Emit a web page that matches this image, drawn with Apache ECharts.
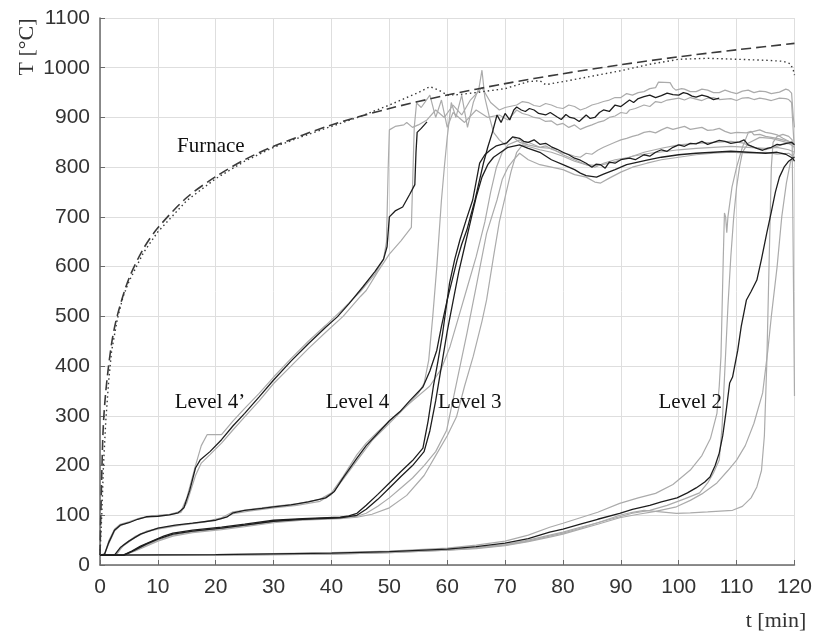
<!DOCTYPE html>
<html>
<head>
<meta charset="utf-8">
<script src="https://cdn.jsdelivr.net/npm/echarts@6/dist/echarts.min.js"></script>
<style>
  html, body { margin: 0; padding: 0; background: #fff; }
  #main { width: 815px; height: 635px; }
</style>
</head>
<body>
<div id="main"></div>
<script>
// axis ticks
const xTicks = [0, 10, 20, 30, 40, 50, 60, 70, 80, 90, 100, 110, 120]
const yTicks = [0, 100, 200, 300, 400, 500, 600, 700, 800, 900, 1000, 1100]

// furnace: standard curve (dashed) and measured (dotted), [t min, T °C]
const furnaceStandard = [[0,20],[0.5,261],[1,349],[2,445],[3,502],[5,576],[7.5,636],[10,678],[15,739],[20,781],[25,815],[30,842],[40,885],[50,918],[60,945],[70,968],[80,988],[90,1006],[100,1022],[110,1036],[120,1049]]
const furnaceMeasured = [[0,20],[0.3,100],[0.6,200],[1,290],[1.5,370],[2,430],[3,495],[4,540],[5,570],[7.5,628],[10,670],[15,733],[20,777],[25,812],[30,840],[35,862],[40,882],[45,902],[50,925],[53,940],[55,950],[57,962],[58.5,955],[60,945],[62,946],[65,950],[70,958],[74,972],[76,974],[77,966],[80,972],[85,983],[90,994],[95,1007],[100,1017],[105,1019],[110,1017],[115,1015],[118,1013],[119.3,1008],[119.8,995],[120,985]]

// Level 4'
const level4pBlack = [[0,20],[0.8,22],[1.5,45],[2.5,70],[3.5,80],[5,85],[6.5,92],[8,97],[10,98],[12,101],[13.5,105],[14.5,115],[15.5,150],[16.5,195],[17.3,211],[19,228],[21,252],[23,280],[25,305],[27.5,338],[30,372],[33,410],[36,445],[39,478],[41,499],[43,525],[45.4,559],[47.5,590],[49,615],[49.6,640],[50,700],[51,712],[52.3,720],[53.5,745],[54.4,765],[54.6,830],[54.8,870],[55.5,878],[56.5,891]]
const level4pGreyA = [[0,20],[0.8,22],[1.5,48],[2.5,72],[3.5,82],[5,87],[7,95],[9,99],[12,102],[14,108],[15,135],[16.5,200],[17.5,240],[18.5,262],[20,262],[21,262],[23,290],[25,315],[27.5,345],[30,378],[33,415],[36,450],[39,482],[42,515],[45,550],[47.5,585],[49,615],[49.5,650],[49.8,800],[50,875],[51,882],[52.5,885],[53,890],[54,880],[55,885],[56.5,895],[58,915],[59.5,900],[61,925],[62.5,905],[64,935],[66,960],[67.5,930],[69,915],[70,920],[72,925],[73,932],[74,930],[75,924],[76,922],[77,928],[78,925],[79,920],[80,918],[81,925],[82,922],[83,915],[84,919],[85,925],[86,928],[87,932],[88,935],[89,940],[90,940],[91,948],[92,945],[93,950],[94,952],[95,958],[96,960],[96.5,971],[98.5,970],[99,960],[99.5,955],[100.5,958],[101,957],[102,952],[103,952],[104,957],[105,955],[106,950],[107,950],[108,955],[109,951],[110,948],[111,953],[112,955],[113,950],[114,953],[115,952],[116,948],[117.4,951],[118.5,957],[119,955],[119.5,949],[119.8,900],[120,880]]
const level4pGreyB = [[0,20],[0.8,22],[1.5,42],[2.5,68],[3.5,79],[5,86],[7,94],[9,98],[12,101],[14,106],[15,125],[16.5,180],[17.5,205],[19,222],[21,245],[23,272],[25,298],[27.5,330],[30,365],[33,400],[36,435],[39,468],[42,500],[45,540],[46,552],[48,590],[50,625],[52,652],[53.8,679],[54,760],[54.3,880],[54.7,929],[55.5,920],[57,945],[58,900],[59,935],[60,880],[61,910],[63,890],[65,915],[67,900],[69,905],[70.5,895],[72,915],[73,908],[74,905],[75,900],[76,898],[77,892],[78,893],[79,885],[80,888],[81,880],[82,885],[83,876],[84,881],[85,885],[86,890],[87,893],[88,900],[89,903],[90,910],[91,908],[91.5,915],[92.5,918],[94,925],[95,922],[96,932],[97,930],[98,935],[99,937],[100,939],[101,935],[102,940],[103,937],[104,934],[105,939],[106,940],[107,936],[108,937],[109,938],[110,934],[111,939],[112,940],[113,936],[114,939],[115,937],[116,934],[117.4,939],[118.5,938],[119,936],[119.5,930],[119.8,870],[120,830]]

// Level 4
const level4Black = [[0,20],[2.5,20],[3.5,35],[5,48],[7,62],[10,74],[13,80],[16,84],[20,90],[22,97],[23,105],[25,110],[28,114],[30,117],[33,121],[36,127],[39,135],[40.5,148],[42,175],[44.4,215],[46,240],[48,265],[50,290],[51.8,308],[53.5,330],[55.8,358],[57,390],[58.2,432],[59,480],[60,533],[61,580],[61.7,613],[62.5,645],[63.4,674],[64,700],[64.8,734],[65.5,770],[66.3,810],[67,840],[67.8,870],[68.6,905],[69.3,890],[70,908],[70.8,895],[71.5,915],[72,921],[72.8,915],[73.5,912],[74.2,918],[75,915],[75.8,908],[77,905],[77.8,910],[79,901],[79.7,896],[80.5,906],[81.2,900],[82,898],[82.8,892],[84,905],[84.7,898],[85.5,900],[86.3,910],[87,915],[88,912],[89,925],[90,922],[91.5,935],[92.2,930],[93,938],[94,942],[95,945],[96,940],[97,944],[98,949],[99,946],[100,945],[100.8,950],[101.5,948],[102.3,943],[103,941],[104,945],[105,942],[106,936],[107,939]]
const level4GreyA = [[0,20],[2.8,20],[4,40],[6,57],[8,68],[10.4,74],[14,81],[18,87],[21,95],[23,107],[26,112],[30,118],[34,123],[38,132],[40,145],[42,178],[44.4,222],[46,245],[48,268],[51,300],[54,330],[57,360],[59,395],[60.5,440],[62,500],[63.5,560],[65,620],[66.5,690],[67.5,750],[68.5,800],[69.5,830],[70.5,845],[72.5,855],[73.3,848],[74,850],[75,845],[76,840],[77,843],[78,836],[79,832],[80,828],[81,826],[82,822],[83,820],[84,828],[85,826],[86,834],[87,840],[88,845],[89,850],[90,855],[91,858],[92,862],[93,865],[94,870],[95,872],[96,869],[97,875],[98,880],[99,876],[100,879],[101,882],[102,876],[103,878],[104,880],[105,874],[106,875],[107,878],[108,872],[109,868],[110,870],[111.7,869],[112.5,872],[113,865],[114,866],[115,862],[116,860],[117,858],[118,855],[119,852],[119.7,850],[120,845]]
const level4GreyB = [[0,20],[2.6,20],[4,38],[6,55],[8,67],[10.4,73],[14,80],[18,86],[21,93],[23,103],[26,109],[30,115],[34,120],[38,128],[40,142],[42,172],[44.4,210],[47,250],[50,285],[53,320],[55,345],[56,365],[56.8,412],[57.5,500],[58.2,600],[59,734],[59.5,800],[60,860],[60.7,930],[61.5,900],[62.5,945],[63.5,880],[64.5,930],[65.5,960],[66,995],[66.5,940],[67.3,900],[68,870],[69,855],[70,845],[71.3,861],[72.5,850],[74,845],[76,840],[78,838],[80,825],[82,815],[84,805],[85.5,800],[87,808],[89,815],[91.5,820],[94,830],[97,838],[100,845],[103,848],[106,850],[109,852],[111,849],[113,840],[115,835],[117,842],[118.6,848],[120,846]]

// Level 3
const level3Black = [[0,20],[4,20],[5.5,28],[7,38],[9,48],[11,58],[12.6,64],[16,70],[21,76],[25,82],[30,90],[35,93],[41.5,96],[43,99],[44.4,104],[46,120],[48,142],[50,165],[52,188],[54,210],[55.8,235],[56.7,290],[57.6,359],[58.4,410],[59.2,466],[60.4,567],[61.3,615],[62.2,654],[63.3,695],[64.4,734],[65.6,808],[66.5,825],[67.5,835],[68.5,843],[70.3,849],[71.3,861],[72.5,858],[73.2,852],[74,850],[75,855],[76,846],[77,848],[78,841],[79,836],[80,830],[81,825],[82,818],[83,814],[84,808],[85,800],[85.7,806],[86.5,805],[87.3,798],[88,810],[89,808],[90,815],[91.5,818],[92.5,815],[94,825],[95,822],[96,830],[97,835],[98,832],[99,840],[100,845],[101,842],[102,848],[103,847],[104,852],[105,846],[106,850],[107,854],[108,852],[109,848],[110.5,851],[111.3,855],[112,845],[113.5,838],[114.5,834],[115.3,838],[116,840],[117,846],[117.5,845],[118.6,848],[119.5,850],[120,845]]
const level3Black2 = [[0,20],[4.2,20],[6,30],[8,42],[10,52],[12.6,62],[16,68],[21,74],[25,80],[30,88],[35,92],[41.5,95],[44.4,100],[46,112],[48,132],[50,155],[52,178],[54,200],[56,228],[57,270],[58,330],[59,400],[60,470],[61,530],[62,590],[63,640],[64,690],[65,740],[66,780],[67,805],[68,820],[69,828],[70.5,840],[72.5,845],[74,838],[76,830],[78,815],[80,805],[82,795],[83,788],[84,783],[85.8,780],[87,786],[89,795],[91,805],[94.5,814],[97,820],[100,825],[103,828],[106,830],[109,832],[112,830],[115,828],[117,830],[118.5,826],[119.7,818],[120,812]]
const level3GreyA = [[0,20],[4,20],[5.5,26],[8,40],[10,50],[12.6,60],[16,67],[21,73],[25,79],[30,87],[35,91],[41.5,94],[44.4,98],[46,104],[48,118],[50,135],[52,155],[54,175],[56,200],[58,228],[59.9,271],[61.5,360],[63.4,466],[65,560],[66.8,667],[68.6,734],[69.5,775],[70.5,800],[71.5,815],[72.5,828],[74,815],[76,805],[78,800],[80,795],[82,785],[84,780],[85.5,770],[86.5,768],[88,778],[90,790],[92,800],[94.5,808],[97,815],[100,820],[103,825],[106,828],[109,830],[112,828],[115,830],[117,826],[119,828],[120,820]]
const level3GreyB = [[0,20],[4,20],[6,28],[8,38],[10,48],[12.6,58],[16,65],[21,71],[25,77],[30,85],[35,90],[41.5,93],[44.4,96],[47,102],[50,115],[53,140],[56,180],[58,220],[60,260],[61.6,298],[63,360],[64.5,420],[66,490],[66.8,533],[68,620],[69,690],[70,740],[71,790],[72,830],[73,845],[74.5,840],[76,835],[78,830],[80,822],[82,812],[84,805],[86,803],[88,808],[90,815],[92,822],[95,828],[98,832],[100,835],[103,838],[106,840],[109,842],[112,840],[115,838],[117,840],[119,835],[120,830]]

// Level 2
const level2Black = [[0,20],[20,21],[40,24],[50,27],[60,32],[65,37],[70,44],[74,53],[77.7,66],[80,72],[83,82],[86,92],[89.8,104],[92,112],[95,120],[97,127],[99.7,135],[101.5,145],[103,155],[104.5,167],[105.4,177],[106.3,200],[107,225],[107.6,260],[108.2,310],[108.8,366],[109.3,378],[110.2,432],[110.8,480],[111.7,533],[112.5,550],[113.5,573],[114.3,615],[115.2,667],[116,710],[116.7,750],[117.4,780],[118.2,800],[119,812],[119.7,818],[120,820]]
const level2GreyA = [[0,20],[20,21],[40,25],[50,28],[60,34],[65,40],[70,48],[74,60],[77.7,76],[80,84],[83,95],[86,106],[89.8,124],[93,135],[96,144],[99,162],[102,191],[104,220],[105.5,255],[106.6,305],[107,360],[107.3,420],[107.5,520],[107.7,620],[107.9,708],[108.1,700],[108.3,668],[108.5,700],[109.2,760],[110,800],[111,840],[112,869],[113,872],[114,875],[115,870],[116,868],[117,865],[118,858],[119,852],[120,845]]
const level2GreyB = [[0,20],[20,20],[40,23],[50,26],[60,31],[65,35],[70,41],[74,50],[77.7,60],[80,66],[83,76],[86,85],[89.8,97],[92,104],[95,110],[98,120],[101,133],[103.6,145],[105,165],[106,185],[107,211],[107.5,280],[108,400],[108.5,520],[109,620],[109.5,700],[110,760],[110.5,800],[111,830],[112,848],[114,860],[116,858],[118,852],[119,848],[120,840]]
const level2GreyC = [[0,20],[20,20],[40,22],[50,25],[60,30],[65,33],[70,39],[74,47],[77.7,56],[80,62],[83,72],[86,82],[89.8,95],[93,102],[96,108],[99.6,117],[102,130],[104,143],[106.6,165],[108.5,190],[110,211],[111.5,240],[113,285],[114.5,346],[115.4,432],[116,500],[117,600],[117.8,700],[118.6,768],[119.3,810],[120,830]]
const level2GreyD = [[0,20],[20,20],[40,22],[50,25],[60,30],[65,34],[70,40],[74,48],[77.7,58],[80,64],[83,74],[86,85],[89.8,100],[92,106],[94,110],[96,108],[99.6,104],[102,105],[105,107],[109.3,110],[111,118],[112.5,135],[113.5,157],[114.3,190],[114.8,260],[115.2,400],[115.5,550],[115.8,700],[116,800],[116.3,850],[117,862],[118,866],[119,862],[119.6,855],[119.8,600],[120,340]]

// text annotations placed in data coordinates
const annotations = [
  { text: 'Furnace', t: 13.3, T: 842 },
  { text: 'Level 4\u2019', t: 12.9, T: 326 },
  { text: 'Level 4', t: 39.0, T: 326 },
  { text: 'Level 3', t: 58.4, T: 326 },
  { text: 'Level 2', t: 96.5, T: 326 }
]

const greyCurves = [level4pGreyA, level4pGreyB, level4GreyA, level4GreyB, level3GreyA, level3GreyB, level2GreyA, level2GreyB, level2GreyC, level2GreyD]
const blackCurves = [level4pBlack, level4Black, level3Black, level3Black2, level2Black]

const chart = echarts.init(document.getElementById('main'))

const lineSeries = (data, color, width, z) => ({
  type: 'line',
  data: data,
  showSymbol: false,
  silent: true,
  z: z,
  lineStyle: { color: color, width: width }
})

const series = []
greyCurves.forEach(c => series.push(lineSeries(c, '#ababab', 1.2, 2)))
blackCurves.forEach(c => series.push(lineSeries(c, '#1e1e1e', 1.3, 3)))
series.push({
  type: 'line', data: furnaceMeasured, showSymbol: false, silent: true, z: 4,
  lineStyle: { color: '#3a3a3a', width: 1.4, type: [1.5, 3] }
})
series.push({
  type: 'line', data: furnaceStandard, showSymbol: false, silent: true, z: 4, smooth: 0.3,
  lineStyle: { color: '#3a3a3a', width: 1.6, type: [10, 5] }
})

const labelFont = 'Liberation Sans, Arial, sans-serif'
const serifFont = 'Liberation Serif, Times New Roman, serif'

const option = {
  backgroundColor: '#ffffff',
  animation: false,
  grid: { left: 100, right: 20, top: 18, bottom: 70 },
  xAxis: {
    type: 'value',
    min: 0,
    max: 120,
    interval: 10,
    axisLine: { show: true, lineStyle: { color: '#6a6a6a', width: 1.5 } },
    axisTick: { show: true, inside: true, length: 5, lineStyle: { color: '#6a6a6a' } },
    axisLabel: { color: '#333', fontSize: 21, fontFamily: labelFont, margin: 12,
      formatter: v => xTicks.includes(v) ? String(v) : '' },
    splitLine: { show: true, lineStyle: { color: '#dedede', width: 1 } }
  },
  yAxis: {
    type: 'value',
    min: 0,
    max: 1100,
    interval: 100,
    axisLine: { show: true, lineStyle: { color: '#6a6a6a', width: 1.5 } },
    axisTick: { show: true, inside: true, length: 5, lineStyle: { color: '#6a6a6a' } },
    axisLabel: { color: '#333', fontSize: 21, fontFamily: labelFont, margin: 10,
      formatter: v => yTicks.includes(v) ? String(v) : '' },
    splitLine: { show: true, lineStyle: { color: '#dedede', width: 1 } }
  },
  series: series
}

chart.setOption(option)

// axis names and annotations as text
const graphics = [
  {
    type: 'text', x: 27, y: 47, rotation: Math.PI / 2,
    style: { text: 'T [\u00b0C]', font: '22px ' + serifFont, fill: '#333', textAlign: 'center', textVerticalAlign: 'middle' }
  },
  {
    type: 'text', x: 776, y: 621,
    style: { text: 't [min]', font: '22px ' + serifFont, fill: '#333', textAlign: 'center', textVerticalAlign: 'middle' }
  }
]
annotations.forEach(a => {
  const p = chart.convertToPixel({ gridIndex: 0 }, [a.t, a.T])
  graphics.push({
    type: 'text', x: p[0], y: p[1], z: 10,
    style: { text: a.text, font: '21px ' + serifFont, fill: '#111', textAlign: 'left', textVerticalAlign: 'middle' }
  })
})
chart.setOption({ graphic: graphics })
</script>
</body>
</html>
